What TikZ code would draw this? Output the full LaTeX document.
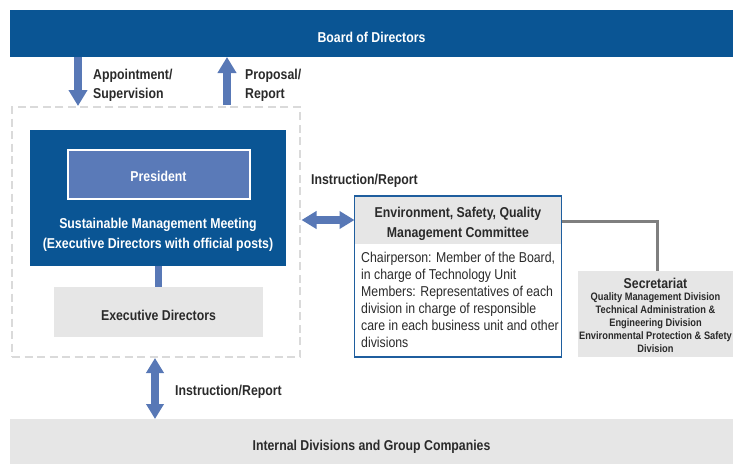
\documentclass[tikz,border=0pt]{standalone}
\usepackage{fontspec}
\setmainfont{Liberation Sans}[FakeStretch=0.86]
\usetikzlibrary{arrows.meta,calc}

\definecolor{navy}{HTML}{0A5594}
\definecolor{arrowblue}{HTML}{5878B6}
\definecolor{presblue}{HTML}{5A7AB8}
\definecolor{panel}{HTML}{E6E6E6}
\definecolor{ink}{HTML}{2A2A2A}
\definecolor{frame}{HTML}{1F5E9E}
\definecolor{linkgray}{HTML}{7F7F7F}
\definecolor{dashgray}{HTML}{DADADA}

\newcommand{\mainsize}{\fontsize{14.3}{20}\selectfont}

\tikzset{
  x=1pt, y=-1pt,
  panelbox/.style={inner sep=0, outer sep=0, anchor=north west},
  bigtext/.style={font=\mainsize\bfseries, inner sep=0, align=center},
  lbl/.style={font=\fontsize{14.3}{19}\selectfont\bfseries, text=ink, inner sep=0, align=left, anchor=west},
  bodytext/.style={font=\fontsize{14.3}{17}\selectfont, text=ink, inner sep=0, align=left, anchor=north west},
  smalltext/.style={font=\fontsize{10.8}{13}\selectfont\bfseries, text=ink, inner sep=0, align=center},
  shaft/.style={draw=arrowblue, line width=8pt},
  onehead/.style={shaft, -{Triangle[width=18pt 0, length=16pt 0, fill=arrowblue]}},
  twohead/.style={shaft, {Triangle[width=17pt 0, length=15pt 0, fill=arrowblue]}-{Triangle[width=17pt 0, length=15pt 0, fill=arrowblue]}},
  link/.style={draw=linkgray, line width=3pt},
}

\begin{document}
\begin{tikzpicture}
\useasboundingbox (0,0) rectangle (733,464);

% top and bottom bands
\node[panelbox, fill=navy, minimum width=723pt, minimum height=47pt] (board) at (10,10) {};
\node[bigtext, text=white] at ($(board.center)+(0,3.5)$) {Board of Directors};

\node[panelbox, fill=panel, minimum width=723pt, minimum height=45pt] (internal) at (10,419) {};
\node[bigtext, text=ink] at ($(internal.center)+(0,5)$) {Internal Divisions and Group Companies};

% management group
\node[panelbox, draw=dashgray, line width=2.5pt, dash pattern=on 8pt off 4.5pt, minimum width=288pt, minimum height=250pt] (group) at (12,107) {};

\node[panelbox, fill=navy, minimum width=256pt, minimum height=136pt] (smm) at (30,130) {};
\node[panelbox, fill=presblue, draw=white, line width=2pt, minimum width=182pt, minimum height=49pt] (pres) at (67.5,149.5) {};
\node[bigtext, text=white] at ($(pres.center)+(0,2.5)$) {President};
\node[bigtext, text=white] (smmtext) at (158,235) {Sustainable Management Meeting\\(Executive Directors with official posts)};

\node[panelbox, fill=panel, minimum width=209pt, minimum height=50pt] (exec) at (54,287) {};
\node[bigtext, text=ink] at ($(exec.center)+(0,3)$) {Executive Directors};

% committee
\node[panelbox, draw=frame, line width=1.5pt, minimum width=207pt, minimum height=161pt] (esq) at (354.5,196) {};
\node[panelbox, fill=panel, minimum width=205.5pt, minimum height=47.5pt] (esqhead) at (355.25,196.75) {};
\node[bigtext, text=ink] at ($(esqhead.center)+(0,3)$) {Environment, Safety, Quality\\Management Committee};
\node[bodytext] (esqbody) at (361,251.5) {Chairperson: Member of the Board,\\in charge of Technology Unit\\Members: Representatives of each\\division in charge of responsible\\care in each business unit and other\\divisions};

% secretariat
\node[panelbox, fill=panel, minimum width=155pt, minimum height=86pt] (secr) at (578,271) {};
\node[bigtext, text=ink] (secrtitle) at (655.5,283) {Secretariat};
\node[smalltext] (secrlist) at (655.5,322.5) {Quality Management Division\\Technical Administration \&\\Engineering Division\\Environmental Protection \& Safety\\Division};

% connector positions
\coordinate (xdown) at (78,0);
\coordinate (xup) at (227,0);
\coordinate (xmid) at (158.5,0);
\coordinate (xlow) at (155,0);
\coordinate (ymid) at (0,220);
\coordinate (ylink) at (0,221);
\coordinate (xsec) at (657,0);

\draw[onehead] (board.south -| xdown) -- ($(group.north -| xdown)+(0,-1)$);
\draw[onehead] ($(group.north -| xup)+(0,-2)$) -- (board.south -| xup);
\draw[draw=arrowblue, line width=7pt] (smm.south -| xmid) -- (exec.north -| xmid);
\draw[twohead] ($(group.east |- ymid)+(1.5,0)$) -- (esq.west |- ymid);
\draw[twohead] ($(group.south -| xlow)+(0,1)$) -- (internal.north -| xlow);
\draw[link] (esq.east |- ylink) -| (secr.north -| xsec);

% connector labels
\node[lbl] at (93,85.5) {Appointment/\\Supervision};
\node[lbl] at (245,85.5) {Proposal/\\Report};
\node[lbl] at (311,181) {Instruction/Report};
\node[lbl] at (175,392) {Instruction/Report};
\end{tikzpicture}
\end{document}
